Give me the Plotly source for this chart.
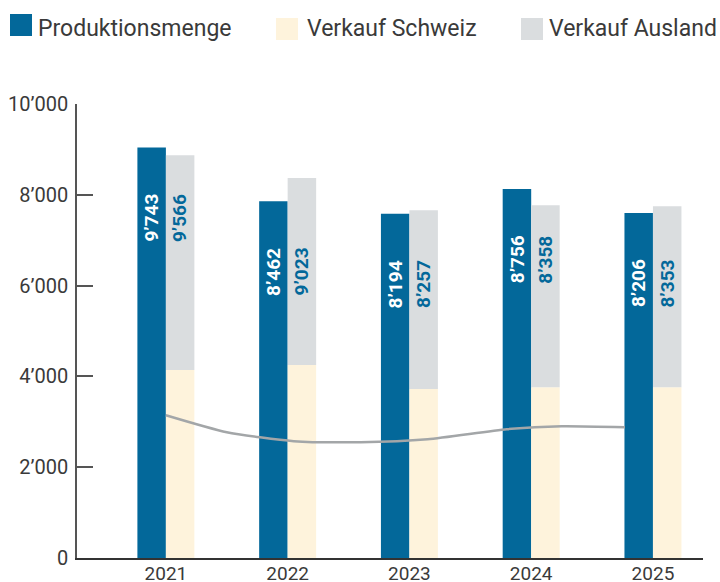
import plotly.graph_objects as go

# ---- data ----
years = [2021, 2022, 2023, 2024, 2025]
produktion = [9040, 7860, 7580, 8130, 7600]
verkauf_schweiz = [4140, 4250, 3720, 3760, 3760]
verkauf_ausland = [4730, 4120, 3940, 4010, 3990]
produktion_labels = ["9’743", "8’462", "8’194", "8’756", "8’206"]
ausland_labels = ["9’566", "9’023", "8’257", "8’358", "8’353"]
line_x = [2021.0, 2021.5, 2022.05, 2022.6, 2023.15, 2023.8, 2024.25, 2024.77]
line_y = [3145, 2771, 2573, 2551, 2617, 2837, 2903, 2881]
series_names = ["Produktionsmenge", "Verkauf Schweiz", "Verkauf Ausland"]
y_ticks = [0, 2000, 4000, 6000, 8000, 10000]
y_tick_labels = ["0", "2’000", "4’000", "6’000", "8’000", "10’000"]

# ---- style ----
BLUE = "#03689a"
CREAM = "#fef3dc"
GREY = "#dadddf"
LINE = "#a3a6a8"
TEXT = "#3a3a3a"
FONT = "Roboto"
BW = 0.234

W, H = 720, 582
L, R, T, B = 77, 17, 104, 24
PW, PH = W - L - R, H - T - B


def px(x):
    return (x - L) / PW


def py(y):
    return (H - B - y) / PH


fig = go.Figure()
fig.add_bar(x=years, y=produktion, width=BW, offset=-BW, marker_color=BLUE,
            marker_line_width=0, opacity=1, name=series_names[0], hoverinfo="skip")
fig.add_bar(x=years, y=verkauf_schweiz, width=BW, offset=0, marker_color=CREAM,
            marker_line_width=0, opacity=1, name=series_names[1], hoverinfo="skip")
fig.add_bar(x=years, y=verkauf_ausland, base=verkauf_schweiz, width=BW, offset=0,
            marker_color=GREY, marker_line_width=0, opacity=1, name=series_names[2],
            hoverinfo="skip")
fig.add_scatter(x=line_x, y=line_y, mode="lines",
                line=dict(color=LINE, width=2.5, shape="spline", smoothing=0.6),
                hoverinfo="skip")

annotations = []
for yr, v, lp, la in zip(years, produktion, produktion_labels, ausland_labels):
    annotations.append(dict(x=yr - BW / 2, y=v - 1550, xref="x", yref="y", text=lp,
                            textangle=-90, showarrow=False,
                            font=dict(family=FONT, size=19, color="white", weight="bold")))
    annotations.append(dict(x=yr + BW / 2, y=v - 1550, xref="x", yref="y", text=la,
                            textangle=-90, showarrow=False,
                            font=dict(family=FONT, size=19, color=BLUE, weight="bold")))

# manual legend (large swatches)
legend_items = [
    (series_names[0], BLUE, 10, 14, 36),
    (series_names[1], CREAM, 276, 18, 305),
    (series_names[2], GREY, 521, 18, 547),
]
shapes = []
for name, col, sx, sy, tx in legend_items:
    shapes.append(dict(type="rect", xref="paper", yref="paper",
                       x0=px(sx), x1=px(sx + 22), y0=py(sy + 22), y1=py(sy),
                       fillcolor=col, line=dict(width=0), layer="above"))
    annotations.append(dict(x=px(tx), y=py(29), xref="paper", yref="paper", text=name,
                            xanchor="left", yanchor="middle", showarrow=False,
                            font=dict(family=FONT, size=23, color=TEXT, weight=400)))

fig.update_layout(
    width=W, height=H,
    margin=dict(l=L, r=R, t=T, b=B, autoexpand=False),
    barmode="overlay",
    showlegend=False,
    plot_bgcolor="white", paper_bgcolor="white",
    font=dict(family=FONT, color=TEXT),
    annotations=annotations,
    shapes=shapes,
    xaxis=dict(range=[2020.27, 2025.411], tickvals=years, ticktext=[str(y) for y in years],
               showgrid=False, zeroline=False, showline=True, linecolor="#333333",
               linewidth=1.5, ticks="", tickfont=dict(family=FONT, size=19, color=TEXT, weight=400),
               ticklabelstandoff=-3, automargin=False, fixedrange=True),
    yaxis=dict(range=[0, 10000], tickvals=y_ticks, ticktext=y_tick_labels,
               showgrid=False, zeroline=False, showline=True, linecolor="#555555",
               linewidth=1.5, ticks="inside", ticklen=16, tickwidth=1.5, tickcolor="#555555",
               tickfont=dict(family=FONT, size=20, color=TEXT, weight=400),
               ticklabelstandoff=3, automargin=False, fixedrange=True),
)

fig.write_html("out.html", config={"displayModeBar": False},
               post_script="document.body.style.margin='0';document.body.style.overflow='hidden';")
